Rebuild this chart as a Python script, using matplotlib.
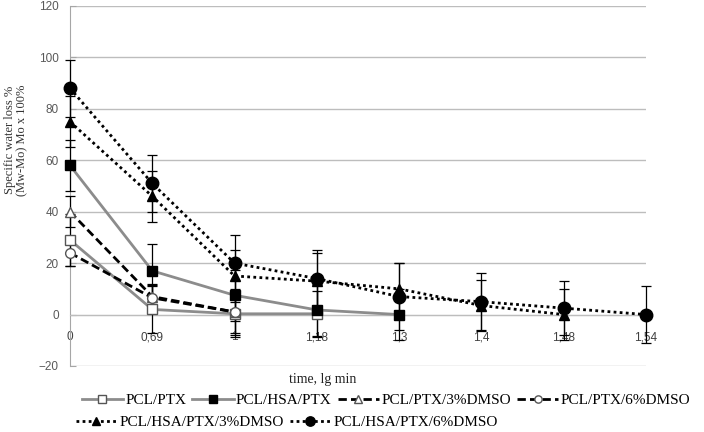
import matplotlib
matplotlib.use("Agg")
import matplotlib.pyplot as plt
from matplotlib.lines import Line2D

# categories on the x axis (lg of time, minutes)
time_labels = ["0", "0,69", "1", "1,18", "1,3", "1,4", "1,48", "1,54"]

# series values
pcl_ptx = [29, 2, 0.3, 0.3]
pcl_ptx_err = [10, 9, 9, 9]
pcl_hsa_ptx = [58, 17, 7.5, 1.8, 0]
pcl_hsa_ptx_err = [10, 10.5, 10, 10, 10]
pcl_ptx_3 = [40, 7, 1]
pcl_ptx_3_err = [6, 5, 9]
pcl_ptx_6 = [24, 6.5, 1]
pcl_ptx_6_err = [5, 5, 8]
pcl_hsa_ptx_3 = [75, 46, 15, 13, 10, 3.5, 0]
pcl_hsa_ptx_3_err = [10, 10, 10, 11, 10, 10, 10]
pcl_hsa_ptx_6 = [88, 51, 20, 14, 7, 5, 2.5, 0]
pcl_hsa_ptx_6_err = [11, 11, 11, 11, 13, 11, 10.5, 11]

names = ["PCL/PTX", "PCL/HSA/PTX", "PCL/PTX/3%DMSO", "PCL/PTX/6%DMSO",
         "PCL/HSA/PTX/3%DMSO", "PCL/HSA/PTX/6%DMSO"]
values = [pcl_ptx, pcl_hsa_ptx, pcl_ptx_3, pcl_ptx_6, pcl_hsa_ptx_3, pcl_hsa_ptx_6]
errors = [pcl_ptx_err, pcl_hsa_ptx_err, pcl_ptx_3_err, pcl_ptx_6_err,
          pcl_hsa_ptx_3_err, pcl_hsa_ptx_6_err]

# line / marker styles for each series
styles = [
    dict(color="#8c8c8c", ls="-", marker="s", mfc="white", mec="#555555", ms=7),
    dict(color="#8c8c8c", ls="-", marker="s", mfc="black", mec="black", ms=7),
    dict(color="black", ls=(0, (3, 1.5)), marker="^", mfc="white", mec="#555555", ms=7),
    dict(color="black", ls=(0, (3, 1.5)), marker="o", mfc="white", mec="#555555", ms=7),
    dict(color="black", ls=(0, (1, 1.2)), marker="^", mfc="black", mec="black", ms=7),
    dict(color="black", ls=(0, (1, 1.2)), marker="o", mfc="black", mec="black", ms=9),
]

fig = plt.figure(figsize=(7.04, 4.32), dpi=100)
ax = fig.add_axes([70 / 704, 1 - 366 / 432, (646 - 70) / 704, (366 - 6) / 432])

for vals, err, st in zip(values, errors, styles):
    x = list(range(len(vals)))
    eb = ax.errorbar(x, vals, yerr=err, fmt="none", ecolor="black", elinewidth=0.9,
                     capsize=3.5, capthick=0.9, zorder=3)
    for a in eb.lines[1] + eb.lines[2]:
        a.set_clip_on(False)
for vals, st in zip(values, styles):
    x = list(range(len(vals)))
    ax.plot(x, vals, lw=2, zorder=4, clip_on=False, **st)

ax.set_xlim(0, len(time_labels) - 1)
ax.set_ylim(-20, 120)
ax.set_yticks(range(-20, 121, 20))
ax.set_xticks(range(len(time_labels)))
ax.set_xticklabels(time_labels)

ax.grid(axis="y", color="#bdbdbd", lw=1)
ax.set_axisbelow(True)
for s in ["top", "right"]:
    ax.spines[s].set_visible(False)
ax.spines["left"].set_color("#a6a6a6")
ax.spines["bottom"].set_position(("data", 0))
ax.spines["bottom"].set_color("#bdbdbd")
ax.tick_params(axis="x", length=0, pad=12, labelsize=8.5, labelcolor="#404040")
ax.tick_params(axis="y", length=4, direction="in", pad=8, labelsize=8.5,
               labelcolor="#595959", color="#a6a6a6")
for lab in ax.get_xticklabels() + ax.get_yticklabels():
    lab.set_fontfamily("Liberation Sans")

fig.text(16 / 704, 1 - 140 / 432, "Specific water loss %\n(Mw-Mo) Mo x 100%",
         rotation=90, ha="center", va="center", fontsize=9, color="#333333",
         family="Liberation Serif", linespacing=1.0)
fig.text(323 / 704, 1 - 380 / 432, "time, lg min", ha="center", va="center",
         fontsize=10, family="Liberation Serif", color="#222222")

handles = [Line2D([], [], lw=2, **dict(st, ms=st["ms"] * 0.75)) for st in styles]
leg_kw = dict(frameon=False, handlelength=2.7, handletextpad=0.15, columnspacing=0.4,
              borderpad=0, prop={"family": "Liberation Serif", "size": 11},
              loc="center left")
fig.legend(handles[:4], names[:4], ncol=4, bbox_to_anchor=(74 / 704, 1 - 400 / 432), **leg_kw)
fig.legend(handles[4:], names[4:], ncol=2, bbox_to_anchor=(68 / 704, 1 - 422 / 432), **leg_kw)

fig.savefig("out.png", dpi=100)
